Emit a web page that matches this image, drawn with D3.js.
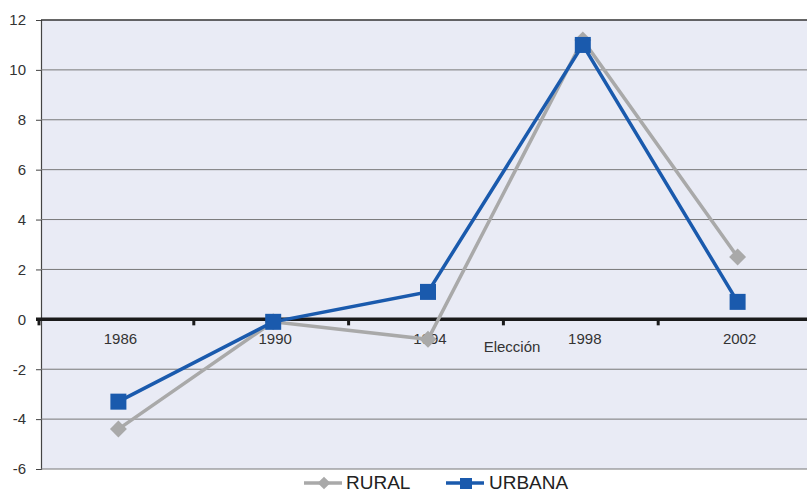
<!DOCTYPE html>
<html>
<head>
<meta charset="utf-8">
<script src="https://cdn.jsdelivr.net/npm/d3@7"></script>
<style>
  html, body { margin: 0; padding: 0; background: #fff; }
  svg { display: block; font-family: "Liberation Sans", Arial, Helvetica, sans-serif; }
</style>
</head>
<body>
<svg id="chart" width="807" height="493"></svg>
<script>
// Elections and the two series
const elecciones = ["1986", "1990", "1994", "1998", "2002"];
const rural   = [-4.4, -0.1, -0.8, 11.2, 2.5];
const urbana  = [-3.3, -0.1, 1.1, 11.0, 0.7];
const yTicks  = [-6, -4, -2, 0, 2, 4, 6, 8, 10, 12];

const svg = d3.select("#chart");
const plotLeft = 41, plotRight = 815, plotTop = 20, plotBottom = 469;

const x = d3.scaleBand().domain(elecciones).range([plotLeft, plotRight]);
const y = d3.scaleLinear().domain([-6, 12]).range([plotBottom, plotTop]);

// plot background
svg.append("rect")
  .attr("x", plotLeft).attr("y", plotTop)
  .attr("width", 807 - plotLeft).attr("height", plotBottom - plotTop)
  .attr("fill", "#e9ebf5");

// horizontal gridlines + y labels
const yAxis = d3.axisLeft(y).tickValues(yTicks).tickSize(5).tickPadding(10).tickFormat(d => String(d));
const gy = svg.append("g").attr("transform", `translate(${plotLeft},0)`).call(yAxis);
gy.select(".domain").attr("stroke", "#444").attr("stroke-width", 1.2);
gy.selectAll(".tick line").attr("stroke", "#444");
gy.selectAll(".tick text").attr("fill", "#333").attr("font-size", 15);

svg.append("g").selectAll("line.grid")
  .data(yTicks.filter(d => d !== 0))
  .join("line")
  .attr("x1", plotLeft).attr("x2", 807)
  .attr("y1", d => y(d)).attr("y2", d => y(d))
  .attr("stroke", d => d === 12 ? "#333" : "#777")
  .attr("stroke-width", d => d === 12 ? 1.4 : 1);

// zero axis with category ticks
const xAxis = d3.axisBottom(x).tickSize(0).tickPadding(14);
const gx = svg.append("g").attr("transform", `translate(0,${y(0)})`).call(xAxis);
gx.select(".domain").remove();
gx.selectAll(".tick text").attr("fill", "#333").attr("font-size", 15)
  .attr("dx", 2);
svg.append("line")
  .attr("x1", 36).attr("x2", 807)
  .attr("y1", y(0)).attr("y2", y(0))
  .attr("stroke", "#1a1a1a").attr("stroke-width", 3.5);
svg.append("g").selectAll("line.xt")
  .data(d3.range(elecciones.length + 1).map(i => plotLeft + i * x.bandwidth() - 2))
  .join("line")
  .attr("x1", d => d).attr("x2", d => d)
  .attr("y1", y(0)).attr("y2", y(0) + 6)
  .attr("stroke", "#1a1a1a").attr("stroke-width", 3);

svg.append("text")
  .attr("x", 512).attr("y", y(0) + 33)
  .attr("text-anchor", "middle").attr("fill", "#333").attr("font-size", 15)
  .text("Elección");

const cx = d => x(d) + x.bandwidth() / 2;
const line = d3.line().x((d, i) => cx(elecciones[i])).y(d => y(d));

const grey = "#a9a9a9", blue = "#1a5aad";

// RURAL series
svg.append("path").datum(rural).attr("d", line)
  .attr("fill", "none").attr("stroke", grey).attr("stroke-width", 3.5);
svg.append("g").selectAll("rect")
  .data(rural).join("rect")
  .attr("x", -6).attr("y", -6).attr("width", 12).attr("height", 12)
  .attr("fill", grey)
  .attr("transform", (d, i) => `translate(${cx(elecciones[i])},${y(d)}) rotate(45)`);

// URBANA series
svg.append("path").datum(urbana).attr("d", line)
  .attr("fill", "none").attr("stroke", blue).attr("stroke-width", 3.5);
svg.append("g").selectAll("rect")
  .data(urbana).join("rect")
  .attr("x", (d, i) => cx(elecciones[i]) - 8).attr("y", d => y(d) - 8)
  .attr("width", 16).attr("height", 16)
  .attr("fill", blue);

// legend
const lg = svg.append("g");
lg.append("line").attr("x1", 304).attr("x2", 342).attr("y1", 483).attr("y2", 483)
  .attr("stroke", grey).attr("stroke-width", 3.5);
lg.append("rect").attr("x", -4.5).attr("y", -4.5).attr("width", 9).attr("height", 9)
  .attr("fill", grey).attr("transform", "translate(324,483) rotate(45)");
lg.append("text").attr("x", 346).attr("y", 489).attr("font-size", 19).attr("fill", "#222").text("RURAL");
lg.append("line").attr("x1", 446).attr("x2", 484).attr("y1", 483).attr("y2", 483)
  .attr("stroke", blue).attr("stroke-width", 3.5);
lg.append("rect").attr("x", 460).attr("y", 478).attr("width", 12).attr("height", 11).attr("fill", blue);
lg.append("text").attr("x", 489).attr("y", 489).attr("font-size", 19).attr("fill", "#222").text("URBANA");
</script>
</body>
</html>
